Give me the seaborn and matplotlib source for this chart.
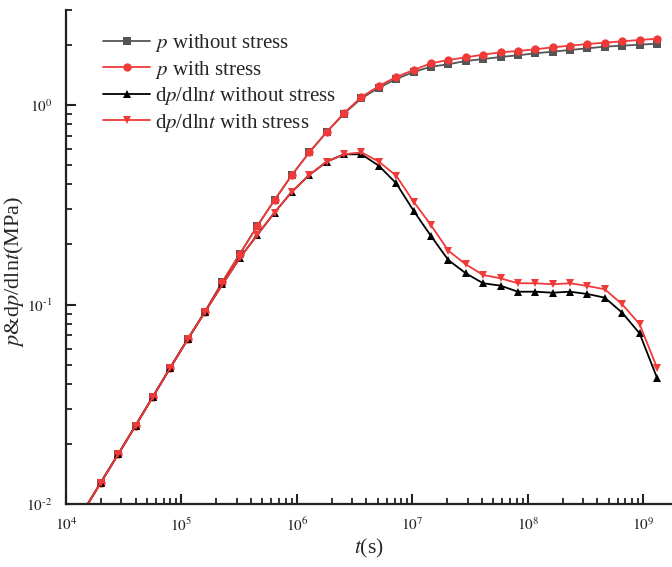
import numpy as np
import pandas as pd
import matplotlib
matplotlib.use("Agg")
import matplotlib.pyplot as plt
import matplotlib.ticker as mticker
import seaborn as sns

# Sampling times (s): half-octave steps
t = [1.414e4, 2.0e4, 2.828e4, 4.0e4, 5.657e4, 8.0e4, 1.131e5, 1.6e5, 2.263e5,
     3.2e5, 4.525e5, 6.4e5, 9.051e5, 1.28e6, 1.81e6, 2.56e6, 3.62e6, 5.12e6,
     7.241e6, 1.024e7, 1.448e7, 2.048e7, 2.896e7, 4.096e7, 5.793e7, 8.192e7,
     1.159e8, 1.638e8, 2.317e8, 3.277e8, 4.634e8, 6.554e8, 9.268e8, 1.311e9]

# Pressure (MPa)
p_without = [0.0092, 0.0128, 0.01775, 0.0247, 0.0345, 0.0482, 0.0669, 0.092,
             0.130, 0.179, 0.247, 0.334, 0.446, 0.579, 0.732, 0.905, 1.08,
             1.22, 1.35, 1.464, 1.556, 1.600, 1.662, 1.700, 1.740, 1.775,
             1.816, 1.850, 1.887, 1.924, 1.960, 1.983, 2.006, 2.029]
p_with = [0.0092, 0.0128, 0.01775, 0.0247, 0.0345, 0.0482, 0.0669, 0.092,
          0.130, 0.179, 0.247, 0.334, 0.446, 0.579, 0.732, 0.912, 1.097,
          1.245, 1.382, 1.498, 1.618, 1.681, 1.734, 1.787, 1.837, 1.865,
          1.902, 1.946, 1.983, 2.022, 2.053, 2.086, 2.118, 2.149]

# Pressure derivative dp/dlnt (MPa)
d_without = [0.0092, 0.0128, 0.01775, 0.0247, 0.0345, 0.0482, 0.0669, 0.092,
             0.126, 0.171, 0.223, 0.289, 0.368, 0.446, 0.520, 0.566, 0.566,
             0.496, 0.405, 0.295, 0.2205, 0.167, 0.1434, 0.1278, 0.1243,
             0.1159, 0.1159, 0.1146, 0.1159, 0.1129, 0.1082, 0.0910, 0.0717,
             0.0430]
d_with = [0.0092, 0.0128, 0.01775, 0.0247, 0.0345, 0.0482, 0.0669, 0.092,
          0.126, 0.171, 0.223, 0.289, 0.368, 0.446, 0.520, 0.566, 0.579,
          0.520, 0.442, 0.3275, 0.250, 0.186, 0.159, 0.1406, 0.1353, 0.1278,
          0.1278, 0.1263, 0.1278, 0.1238, 0.1192, 0.1002, 0.0798, 0.0483]

labels = [r"$p$ without stress", r"$p$ with stress",
          r"d$p$/dln$t$ without stress", r"d$p$/dln$t$ with stress"]

sns.set_style("ticks")
plt.rcParams["font.family"] = ["Liberation Serif", "DejaVu Serif"]
plt.rcParams["mathtext.fontset"] = "stix"

fig = plt.figure(figsize=(6.72, 5.67), dpi=100)
ax = fig.add_axes([0.0982, 0.1111, 0.9018, 0.8716])

series = [
    (p_without, "#555555", "s", 5.2),
    (p_with, "#f03a3a", "o", 6.0),
    (d_without, "black", "^", 6.0),
    (d_with, "#f03a3a", "v", 6.0),
]
for (vals, col, mk, ms), lab in zip(series, labels):
    df = pd.DataFrame({"t": t, "v": vals})
    sns.lineplot(data=df, x="t", y="v", ax=ax, color=col, marker=mk,
                 markersize=ms, markeredgewidth=0, linewidth=1.3,
                 label=lab, estimator=None, sort=False)

ax.set_xscale("log")
ax.set_yscale("log")
ax.set_xlim(1e4, 1.77e9)
ax.set_ylim(0.01, 3.0)

for side in ("top", "right"):
    ax.spines[side].set_visible(False)
for side in ("left", "bottom"):
    ax.spines[side].set_linewidth(1.6)
    ax.spines[side].set_color("#222222")

ax.xaxis.set_major_locator(mticker.LogLocator(base=10, numticks=12))
ax.xaxis.set_minor_locator(mticker.LogLocator(base=10, subs=np.arange(2, 10), numticks=12))
ax.yaxis.set_major_locator(mticker.LogLocator(base=10, numticks=12))
ax.yaxis.set_minor_locator(mticker.LogLocator(base=10, subs=np.arange(2, 10), numticks=12))
ax.xaxis.set_minor_formatter(mticker.NullFormatter())
ax.yaxis.set_minor_formatter(mticker.NullFormatter())


def pow10_label(v, pos):
    e = int(round(np.log10(v)))
    # short hyphen for negative exponents
    exp = ("\u2010%d" % -e) if e < 0 else "%d" % e
    return "$10^{%s}$" % exp


fmt = mticker.FuncFormatter(pow10_label)
ax.xaxis.set_major_formatter(fmt)
ax.yaxis.set_major_formatter(fmt)

ax.tick_params(which="major", direction="in", length=7, width=1.5,
               labelsize=11, colors="#222222")
ax.tick_params(which="minor", direction="in", length=4, width=1.3,
               colors="#222222")
ax.tick_params(axis="x", which="major", pad=9)
ax.tick_params(axis="y", which="major", pad=10)

ax.set_xlabel(r"$t$(s)", fontsize=15.5, labelpad=2)
ax.set_ylabel(r"$p$&d$p$/dln$t$(MPa)", fontsize=16)
ax.yaxis.set_label_coords(-0.066, 0.47)

leg = ax.legend(loc="upper left", bbox_to_anchor=(0.048, 0.972), frameon=False,
                fontsize=15, handlelength=2.25, handletextpad=0.25,
                labelspacing=0.22, borderaxespad=0)

fig.savefig("out.png", dpi=100)
